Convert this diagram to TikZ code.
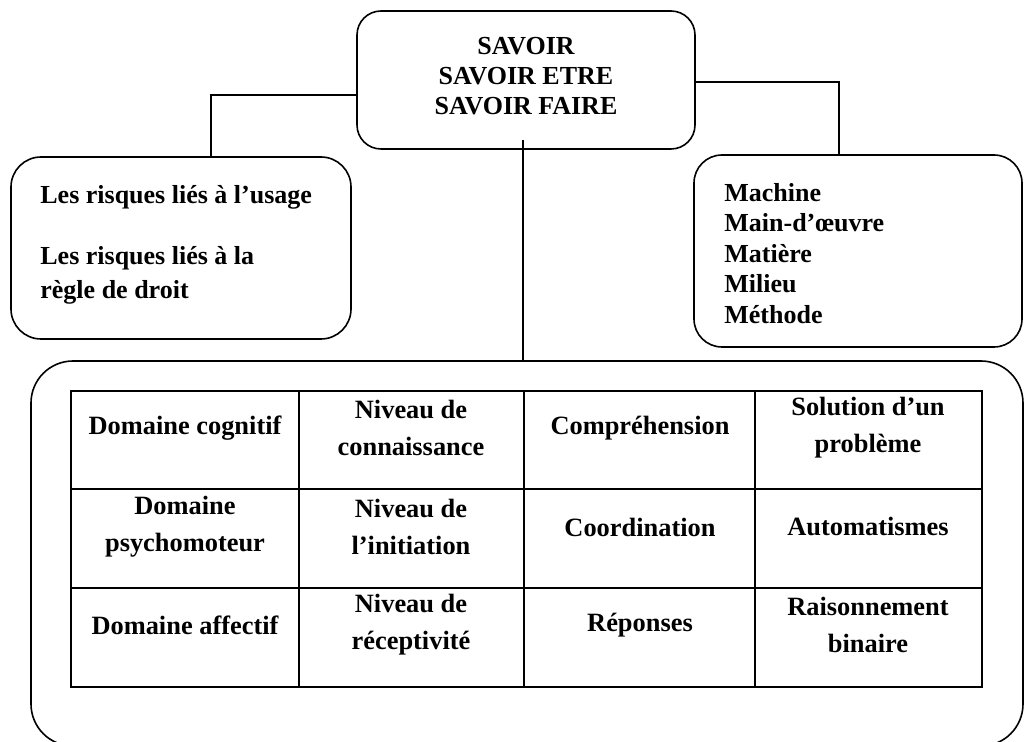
\documentclass[tikz,border=0pt]{standalone}
\usepackage{fontspec}
\setmainfont{Liberation Serif}
\usetikzlibrary{positioning}

\tikzset{
  boite/.style={draw, line width=0.8pt, rounded corners=#1, inner sep=0pt},
  boite/.default=12pt,
  texte/.style={font=\fontsize{13}{15}\selectfont\bfseries, inner sep=0pt},
  cellule/.style={font=\fontsize{13.2}{18.5}\selectfont\bfseries, align=center, inner sep=0pt},
  lien/.style={line width=0.7pt},
  grille/.style={line width=0.6pt}
}

\begin{document}
\begin{tikzpicture}[x=0.5pt, y=-0.5pt]
    \clip (0,0) rectangle (1029,742);

    % boites
    \node[boite=12pt, minimum width=169pt, minimum height=69pt] (savoir) at (526,80) {};
    \node[boite=15pt, minimum width=170pt, minimum height=91pt] (risques) at (181,248) {};
    \node[boite=14pt, minimum width=164pt, minimum height=96pt] (facteurs) at (858,251) {};
    \node[boite=21pt, minimum width=496pt, minimum height=192.5pt] (domaines) at (527,553.5) {};

    % textes des boites
    \node[texte, align=center, anchor=north] (savoirtxt) at (526,37) {SAVOIR\\SAVOIR ETRE\\SAVOIR FAIRE};
    \node[texte, align=left, anchor=north west, font=\fontsize{13}{17}\selectfont\bfseries] (risquestxt) at (40,185)
        {Les risques liés à l’usage\\[13.5pt]Les risques liés à la\\règle de droit};
    \node[texte, align=left, anchor=north west, font=\fontsize{13}{15.25}\selectfont\bfseries] (facteurstxt) at (724,183)
        {Machine\\Main-d’œuvre\\Matière\\Milieu\\Méthode};

    % liens
    \draw[lien] ([yshift=-7.5pt]savoir.west) -| ([xshift=15pt]risques.north);
    \draw[lien] ([yshift=-1pt]savoir.east) -| ([xshift=-9.5pt]facteurs.north);
    \draw[lien] ([xshift=-1.5pt,yshift=5pt]savoir.south) -- ([xshift=-1.5pt]savoir.south |- domaines.north);

    % tableau
    \draw[grille] (71,391) rectangle (982,687);
    \foreach \x in {299,524,755} \draw[grille] (\x,391) -- (\x,687);
    \foreach \y in {489,588} \draw[grille] (71,\y) -- (982,\y);

    \node[cellule] (c11) at (185,428) {Domaine cognitif};
    \node[cellule] (c12) at (411,428) {Niveau de\\connaissance};
    \node[cellule] (c13) at (640,428) {Compréhension};
    \node[cellule] (c14) at (868,428) {Solution d’un\\problème};

    \node[cellule] (c21) at (185,527) {Domaine\\psychomoteur};
    \node[cellule] (c22) at (411,527) {Niveau de\\l’initiation};
    \node[cellule] (c23) at (640,527) {Coordination};
    \node[cellule] (c24) at (868,527) {Automatismes};

    \node[cellule] (c31) at (185,625) {Domaine affectif};
    \node[cellule] (c32) at (411,625) {Niveau de\\réceptivité};
    \node[cellule] (c33) at (640,625) {Réponses};
    \node[cellule] (c34) at (868,625) {Raisonnement\\binaire};
\end{tikzpicture}
\end{document}
